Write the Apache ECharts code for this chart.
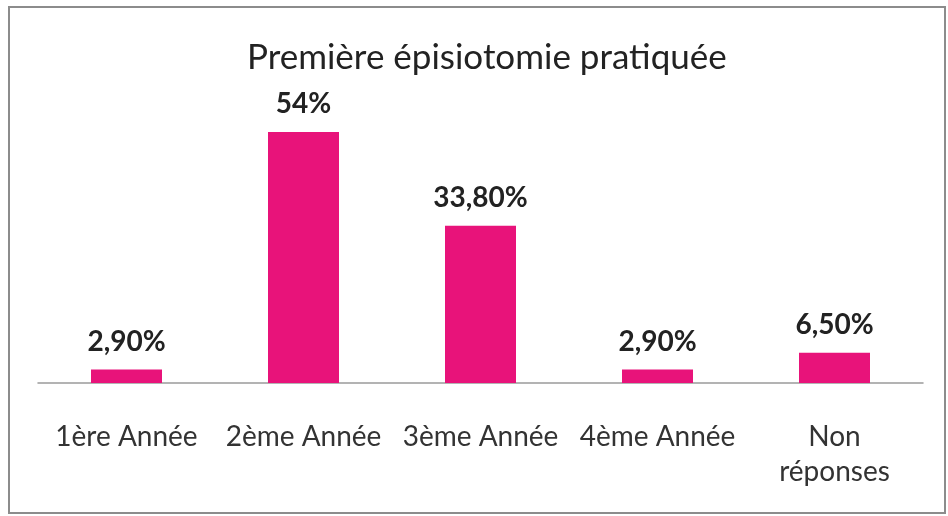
<!DOCTYPE html>
<html>
<head>
<meta charset="utf-8">
<script src="https://cdn.jsdelivr.net/npm/echarts@6/dist/echarts.min.js"></script>
<style>
  html, body { margin: 0; padding: 0; background: #fff; }
  #chart { width: 948px; height: 516px; }
</style>
</head>
<body>
<div id="chart"></div>
<script>
// Année de la première épisiotomie pratiquée (% des réponses)
const categories = ['1ère Année', '2ème Année', '3ème Année', '4ème Année', 'Non\nréponses'];
const values = [2.9, 54, 33.8, 2.9, 6.5];

function pct(v) {
  return Number.isInteger(v) ? v + '%' : v.toFixed(2).replace('.', ',') + '%';
}

const font = 'Lato, "Open Sans", sans-serif';
const chart = echarts.init(document.getElementById('chart'), null, { renderer: 'canvas' });

chart.setOption({
  animation: false,
  backgroundColor: '#ffffff',
  title: {
    text: 'Première épisiotomie pratiquée',
    left: 242,
    top: 35,
    textStyle: { fontFamily: font, fontSize: 35, fontWeight: 'normal', color: '#222' }
  },
  graphic: [{
    type: 'rect',
    shape: { x: 9, y: 7, width: 936, height: 506 },
    style: { fill: 'none', stroke: '#8c8c8c', lineWidth: 2 },
    silent: true
  }],
  grid: { left: 38, right: 25, top: 104, bottom: 133 },
  xAxis: {
    type: 'category',
    data: categories,
    axisLine: { lineStyle: { color: '#9a9a9a', width: 1.5 } },
    axisTick: { show: false },
    axisLabel: {
      interval: 0,
      fontFamily: font, fontSize: 28, color: '#333', lineHeight: 35, margin: 36
    }
  },
  yAxis: {
    type: 'value', min: 0, max: 60, show: false, splitLine: { show: false }
  },
  series: [{
    type: 'bar',
    data: values,
    barWidth: 71,
    itemStyle: { color: '#E8137A' },
    label: {
      show: true,
      position: 'top',
      distance: 14,
      formatter: p => pct(p.value),
      fontFamily: font, fontSize: 28, fontWeight: 'bold', color: '#222'
    }
  }]
});
</script>
</body>
</html>
